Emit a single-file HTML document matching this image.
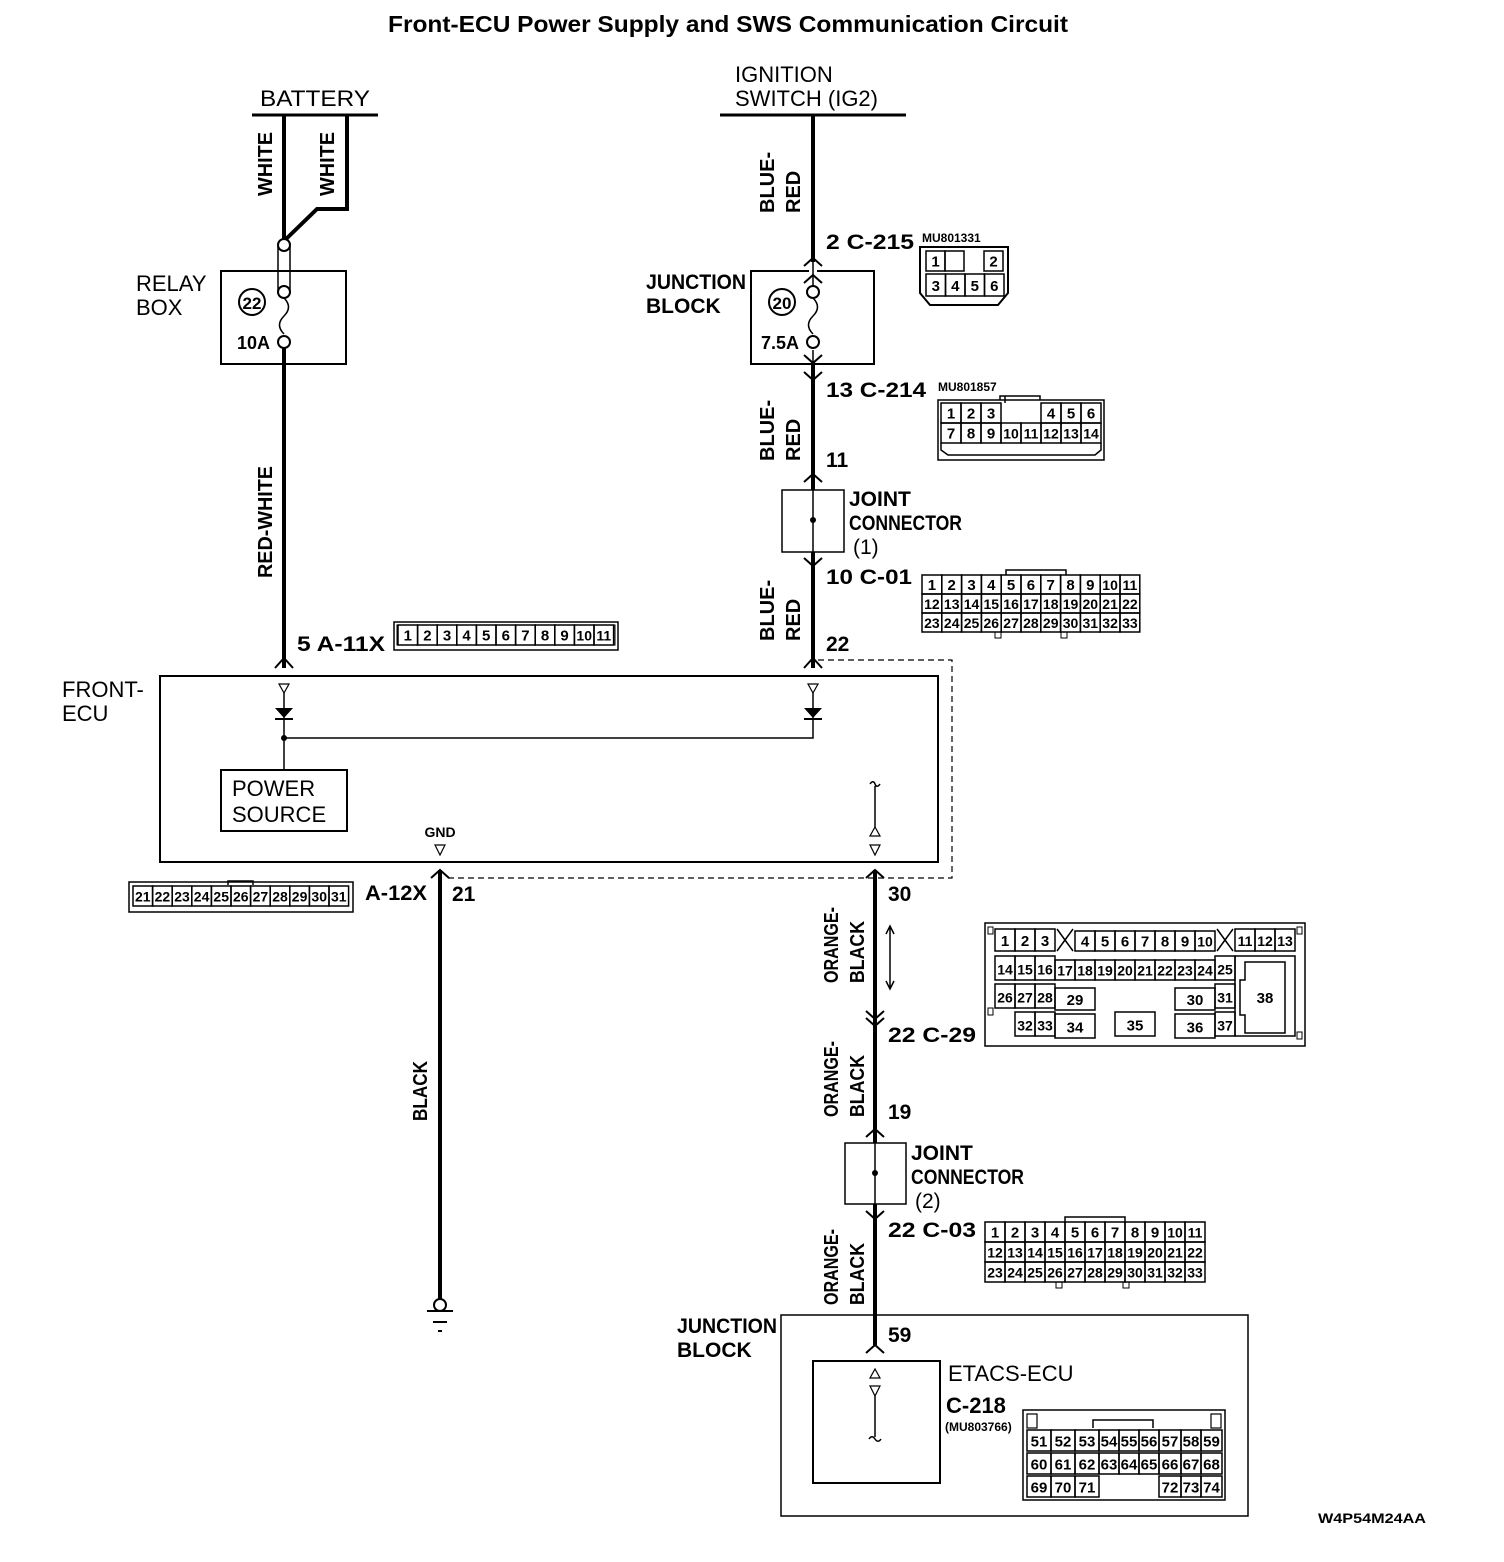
<!DOCTYPE html>
<html><head><meta charset="utf-8"><style>
html,body{margin:0;padding:0;background:#fff}
svg{display:block}
text{font-family:"Liberation Sans",sans-serif;fill:#000}
.b{font-weight:bold}
</style></head><body>
<svg id="s" width="1504" height="1562" viewBox="0 0 1504 1562" xmlns="http://www.w3.org/2000/svg">
<rect width="1504" height="1562" fill="#fff"/>
<text x="388" y="32" class="b" font-size="23" textLength="680" lengthAdjust="spacingAndGlyphs">Front-ECU Power Supply and SWS Communication Circuit</text>

<!-- BATTERY -->
<text x="260" y="106" font-size="22" textLength="110" lengthAdjust="spacingAndGlyphs">BATTERY</text>
<line x1="252" y1="115" x2="378" y2="115" stroke="#000" stroke-width="3"/>
<polyline points="284,115 284,240" stroke="#000" stroke-width="4" fill="none"/>
<polyline points="347,115 347,209 317,209 284,241" stroke="#000" stroke-width="4" fill="none"/>
<text transform="translate(272,196) rotate(-90)" class="b" font-size="20" textLength="64" lengthAdjust="spacingAndGlyphs">WHITE</text>
<text transform="translate(334,196) rotate(-90)" class="b" font-size="20" textLength="64" lengthAdjust="spacingAndGlyphs">WHITE</text>
<rect x="221" y="271" width="125" height="93" fill="none" stroke="#000" stroke-width="2"/>
<text x="136" y="291" font-size="22">RELAY</text>
<text x="136" y="315" font-size="22">BOX</text>
<path d="M278,246 V292 M290,246 V292" stroke="#000" stroke-width="1.5"/>
<circle cx="284" cy="245" r="6" fill="#fff" stroke="#000" stroke-width="2"/>
<circle cx="284" cy="292" r="6" fill="#fff" stroke="#000" stroke-width="2"/>
<path d="M284,298 c6,6 6,12 0,18 c-6,6 -6,12 0,18" fill="none" stroke="#000" stroke-width="1.5"/>
<circle cx="284" cy="342" r="6" fill="#fff" stroke="#000" stroke-width="2"/>
<circle cx="252" cy="302" r="13" fill="none" stroke="#000" stroke-width="2"/>
<text x="252" y="309" class="b" font-size="17" text-anchor="middle">22</text>
<text x="237" y="349" class="b" font-size="18">10A</text>
<line x1="284" y1="348" x2="284" y2="668" stroke="#000" stroke-width="4"/>
<text transform="translate(272,578) rotate(-90)" class="b" font-size="20" textLength="112" lengthAdjust="spacingAndGlyphs">RED-WHITE</text>
<text x="297" y="651" class="b" font-size="21" textLength="88" lengthAdjust="spacingAndGlyphs">5 A-11X</text>
<path d="M275,668 L284,658 L293,668" fill="none" stroke="#000" stroke-width="2"/>

<!-- Ignition -->
<text x="735" y="82" font-size="22">IGNITION</text>
<text x="735" y="106" font-size="22">SWITCH (IG2)</text>
<line x1="720" y1="115" x2="906" y2="115" stroke="#000" stroke-width="3"/>
<line x1="813" y1="115" x2="813" y2="668" stroke="#000" stroke-width="4"/>
<text transform="translate(774,213) rotate(-90)" class="b" font-size="20">BLUE-</text>
<text transform="translate(800,213) rotate(-90)" class="b" font-size="20">RED</text>
<text x="826" y="249" class="b" font-size="21" textLength="88" lengthAdjust="spacingAndGlyphs">2 C-215</text>
<text x="922" y="242" class="b" font-size="12">MU801331</text>
<rect x="751" y="271" width="123" height="93" fill="none" stroke="#000" stroke-width="2"/>
<rect x="809" y="262" width="8" height="100" fill="#fff"/>
<line x1="813" y1="262" x2="813" y2="285" stroke="#000" stroke-width="1.5"/>
<line x1="813" y1="350" x2="813" y2="372" stroke="#000" stroke-width="1.5"/>
<path d="M804,266 L813,258 L822,266 M804,283 L813,275 L822,283 M804,355 L813,363 L822,355 M804,372 L813,380 L822,372" fill="none" stroke="#000" stroke-width="2"/>
<circle cx="813" cy="292" r="6" fill="#fff" stroke="#000" stroke-width="2"/>
<path d="M813,298 c6,6 6,12 0,18 c-6,6 -6,12 0,18" fill="none" stroke="#000" stroke-width="1.5"/>
<circle cx="813" cy="342" r="6" fill="#fff" stroke="#000" stroke-width="2"/>
<circle cx="782" cy="302" r="13" fill="none" stroke="#000" stroke-width="2"/>
<text x="782" y="309" class="b" font-size="17" text-anchor="middle">20</text>
<text x="761" y="349" class="b" font-size="18">7.5A</text>
<text x="646" y="289" class="b" font-size="21" textLength="100" lengthAdjust="spacingAndGlyphs">JUNCTION</text>
<text x="646" y="313" class="b" font-size="21">BLOCK</text>
<text x="826" y="397" class="b" font-size="21" textLength="100" lengthAdjust="spacingAndGlyphs">13 C-214</text>
<text x="938" y="391" class="b" font-size="12">MU801857</text>
<text transform="translate(774,461) rotate(-90)" class="b" font-size="20">BLUE-</text>
<text transform="translate(800,461) rotate(-90)" class="b" font-size="20">RED</text>
<text x="826" y="467" class="b" font-size="21">11</text>
<path d="M804,482 L813,474 L822,482" fill="none" stroke="#000" stroke-width="2"/>
<rect x="782" y="490" width="62" height="62" fill="#fff" stroke="#000" stroke-width="1.5"/>
<line x1="813" y1="490" x2="813" y2="552" stroke="#000" stroke-width="1.5"/>
<circle cx="813" cy="520" r="3" fill="#000"/>
<text x="849" y="506" class="b" font-size="21">JOINT</text>
<text x="849" y="530" class="b" font-size="21" textLength="113" lengthAdjust="spacingAndGlyphs">CONNECTOR</text>
<text x="853" y="554" font-size="21">(1)</text>
<path d="M804,558 L813,566 L822,558" fill="none" stroke="#000" stroke-width="2"/>
<text x="826" y="584" class="b" font-size="21" textLength="86" lengthAdjust="spacingAndGlyphs">10 C-01</text>
<text transform="translate(774,641) rotate(-90)" class="b" font-size="20">BLUE-</text>
<text transform="translate(800,641) rotate(-90)" class="b" font-size="20">RED</text>
<text x="826" y="651" class="b" font-size="21">22</text>
<path d="M804,668 L813,658 L822,668" fill="none" stroke="#000" stroke-width="2"/>

<path d="M818,660 H952 V878 H445" fill="none" stroke="#000" stroke-width="1.2" stroke-dasharray="6,4"/>

<!-- FRONT ECU -->
<rect x="160" y="676" width="778" height="186" fill="#fff" stroke="#000" stroke-width="2"/>
<text x="62" y="697" font-size="22">FRONT-</text>
<text x="62" y="721" font-size="22">ECU</text>
<path d="M279,684 L289,684 L284,693 Z M808,684 L818,684 L813,693 Z" fill="none" stroke="#000" stroke-width="1.2"/>
<path d="M284,693 V770 M284,738 H813 V693" fill="none" stroke="#000" stroke-width="1.5"/>
<path d="M275,708 L293,708 L284,718 Z M804,708 L822,708 L813,718 Z" fill="#000"/>
<path d="M275,719 H293 M804,719 H822" stroke="#000" stroke-width="2"/>
<circle cx="284" cy="738" r="3" fill="#000"/>
<rect x="221" y="770" width="126" height="61" fill="#fff" stroke="#000" stroke-width="2"/>
<text x="232" y="796" font-size="22">POWER</text>
<text x="232" y="822" font-size="22">SOURCE</text>
<text x="440" y="837" class="b" font-size="14" text-anchor="middle">GND</text>
<path d="M435,845 L445,845 L440,855 Z" fill="none" stroke="#000" stroke-width="1.2"/>
<path d="M870,784 c2,-3 4,-3 5,0 c1,3 3,3 5,0 M875,786 V827" fill="none" stroke="#000" stroke-width="1.5"/>
<path d="M870,836 L880,836 L875,827 Z M870,845 L880,845 L875,855 Z" fill="none" stroke="#000" stroke-width="1.2"/>

<path d="M431,878 L440,870 L449,878 M866,878 L875,870 L884,878" fill="none" stroke="#000" stroke-width="2"/>
<line x1="440" y1="870" x2="440" y2="1300" stroke="#000" stroke-width="4"/>
<text x="365" y="900" class="b" font-size="21" textLength="62" lengthAdjust="spacingAndGlyphs">A-12X</text>
<text x="452" y="901" class="b" font-size="21">21</text>
<text transform="translate(427,1121) rotate(-90)" class="b" font-size="20" textLength="60" lengthAdjust="spacingAndGlyphs">BLACK</text>
<circle cx="440" cy="1305" r="6" fill="#fff" stroke="#000" stroke-width="2"/>
<path d="M427,1311 H453 M433,1322 H447 M438,1331 H442" stroke="#000" stroke-width="2"/>

<line x1="875" y1="870" x2="875" y2="1345" stroke="#000" stroke-width="4"/>
<text x="888" y="901" class="b" font-size="21">30</text>
<path d="M890,928 V987 M886,934 L890,926 L894,934 M886,981 L890,989 L894,981" fill="none" stroke="#000" stroke-width="1.5"/>
<text transform="translate(838,983) rotate(-90)" class="b" font-size="20" textLength="76" lengthAdjust="spacingAndGlyphs">ORANGE-</text>
<text transform="translate(864,983) rotate(-90)" class="b" font-size="20" textLength="62" lengthAdjust="spacingAndGlyphs">BLACK</text>
<path d="M866,1011 L875,1019 L884,1011 M866,1018 L875,1026 L884,1018" fill="none" stroke="#000" stroke-width="2"/>
<text x="888" y="1042" class="b" font-size="21" textLength="88" lengthAdjust="spacingAndGlyphs">22 C-29</text>
<text transform="translate(838,1117) rotate(-90)" class="b" font-size="20" textLength="76" lengthAdjust="spacingAndGlyphs">ORANGE-</text>
<text transform="translate(864,1117) rotate(-90)" class="b" font-size="20" textLength="62" lengthAdjust="spacingAndGlyphs">BLACK</text>
<text x="888" y="1119" class="b" font-size="21">19</text>
<path d="M866,1137 L875,1129 L884,1137" fill="none" stroke="#000" stroke-width="2"/>
<rect x="845" y="1143" width="61" height="61" fill="#fff" stroke="#000" stroke-width="1.5"/>
<line x1="875" y1="1143" x2="875" y2="1204" stroke="#000" stroke-width="1.5"/>
<circle cx="875" cy="1173" r="3" fill="#000"/>
<text x="911" y="1160" class="b" font-size="21">JOINT</text>
<text x="911" y="1184" class="b" font-size="21" textLength="113" lengthAdjust="spacingAndGlyphs">CONNECTOR</text>
<text x="915" y="1208" font-size="21">(2)</text>
<path d="M866,1211 L875,1219 L884,1211" fill="none" stroke="#000" stroke-width="2"/>
<text x="888" y="1237" class="b" font-size="21" textLength="88" lengthAdjust="spacingAndGlyphs">22 C-03</text>
<text transform="translate(838,1305) rotate(-90)" class="b" font-size="20" textLength="76" lengthAdjust="spacingAndGlyphs">ORANGE-</text>
<text transform="translate(864,1305) rotate(-90)" class="b" font-size="20" textLength="62" lengthAdjust="spacingAndGlyphs">BLACK</text>

<rect x="781" y="1315" width="467" height="201" fill="none" stroke="#000" stroke-width="1.5"/>
<text x="677" y="1333" class="b" font-size="21" textLength="100" lengthAdjust="spacingAndGlyphs">JUNCTION</text>
<text x="677" y="1357" class="b" font-size="21">BLOCK</text>
<text x="888" y="1342" class="b" font-size="21">59</text>
<path d="M866,1353 L875,1345 L884,1353" fill="none" stroke="#000" stroke-width="2"/>
<rect x="813" y="1361" width="127" height="122" fill="none" stroke="#000" stroke-width="2"/>
<path d="M870,1378 L880,1378 L875,1369 Z M870,1386 L880,1386 L875,1396 Z" fill="none" stroke="#000" stroke-width="1.2"/>
<path d="M875,1396 V1437 M869,1439 c2,-3 4,-3 6,0 c2,3 4,3 6,0" fill="none" stroke="#000" stroke-width="1.5"/>
<text x="948" y="1381" font-size="22">ETACS-ECU</text>
<text x="946" y="1413" class="b" font-size="22">C-218</text>
<text x="945" y="1431" class="b" font-size="12">(MU803766)</text>

<text x="1318" y="1523" class="b" font-size="14" textLength="108" lengthAdjust="spacingAndGlyphs">W4P54M24AA</text>
<g id="conn"></g>
</svg>
<script>
var g=document.getElementById('conn'),NS='http://www.w3.org/2000/svg';
function R(x,y,w,h,sw,f){var r=document.createElementNS(NS,'rect');r.setAttribute('x',x);r.setAttribute('y',y);r.setAttribute('width',w);r.setAttribute('height',h);r.setAttribute('fill',f||'none');r.setAttribute('stroke','#000');r.setAttribute('stroke-width',sw||1.5);g.appendChild(r);}
function T(x,y,s,fs){var t=document.createElementNS(NS,'text');t.setAttribute('x',x);t.setAttribute('y',y);t.setAttribute('font-size',fs||15);t.setAttribute('font-weight','bold');t.setAttribute('text-anchor','middle');t.textContent=s;g.appendChild(t);}
function L(d,sw){var p=document.createElementNS(NS,'path');p.setAttribute('d',d);p.setAttribute('fill','none');p.setAttribute('stroke','#000');p.setAttribute('stroke-width',sw||1.5);g.appendChild(p);}
function cell(x,y,w,h,s,fs){R(x,y,w,h,1.5);if(s!==null&&s!=='')T(x+w/2,y+h*0.78,s,fs||(String(s).length>1&&w<22?14:15));}
function row(x,y,w,h,arr){arr.forEach(function(s,i){if(s!==null)cell(x+i*w,y,w,h,s);});}
R(394,622,224,28,1.5);R(397,625,218,20,1);row(398,625,19.6,20,[1,2,3,4,5,6,7,8,9,10,11]);
R(129,882,224,30,1.5);L('M228,885 V881 H253 V885');row(133,886,19.6,20,[21,22,23,24,25,26,27,28,29,30,31]);
L('M920,247 H1008 V293 L998,305 H930 L920,293 Z',2);
cell(926,251,19,20,1);cell(945,251,19,20,'');cell(984,251,19,20,2);
row(926,274,19.5,22,[3,4,5,6]);
R(938,400,166,60,1.5);L('M1000,400 V396 H1040 V400');
row(941,403,20,20,[1,2,3,null,null,4,5,6]);L('M1005,403 V396');
row(941,423,20,20,[7,8,9,10,11,12,13,14]);L('M941,443 V450 L948,455 H1095 L1101,450 V443');
L('M1006,575 V570 H1066 V575');
row(922,575,19.8,19,[1,2,3,4,5,6,7,8,9,10,11]);
row(922,594,19.8,19,[12,13,14,15,16,17,18,19,20,21,22]);
row(922,613,19.8,19,[23,24,25,26,27,28,29,30,31,32,33]);
R(995,632,6,6,1);R(1061,632,6,6,1);
L('M1065,1222 V1217 H1125 V1222');
row(985,1222,20,20,[1,2,3,4,5,6,7,8,9,10,11]);
row(985,1242,20,20,[12,13,14,15,16,17,18,19,20,21,22]);
row(985,1262,20,20,[23,24,25,26,27,28,29,30,31,32,33]);
R(1056,1282,6,6,1);R(1123,1282,6,6,1);
R(985,923,320,123,1.5);
row(995,929,20,22,[1,2,3]);L('M1057,929 L1073,951 M1073,929 L1057,951',1.5);
row(1075,931,20,20,[4,5,6,7,8,9,10]);L('M1217,929 L1233,951 M1233,929 L1217,951',1.5);
row(1235,929,20,22,[11,12,13]);
row(995,956,20,24,[14,15,16]);row(1055,960,20,20,[17,18,19,20,21,22,23,24]);cell(1215,956,20,24,25);
row(995,984,20,24,[26,27,28]);cell(1055,988,40,22,29);cell(1175,988,40,22,30);cell(1215,984,20,24,31);
row(1015,1012,20,24,[32,33]);cell(1055,1014,40,24,34);cell(1115,1012,40,24,35);cell(1175,1014,40,24,36);cell(1215,1012,20,24,37);
R(1235,956,60,80,1.5);L('M1245,962 H1285 V1033 H1245 V1015 H1240 V980 H1245 Z');T(1265,1003,38,15);
R(988,927,5,7,1);R(1297,927,5,7,1);R(988,1008,5,7,1);R(1297,1032,5,7,1);
R(1023,1410,202,90,1.5);R(1027,1414,10,14,1.2);R(1211,1414,10,14,1.2);L('M1093,1428 V1420 H1153 V1428');
var xs=[1027,1051,1075,1099,1119,1139,1159,1181,1201,1222];
function r218(y,labs){labs.forEach(function(s,i){if(s!==null)cell(xs[i],y,xs[i+1]-xs[i],21,s,15);});}
r218(1430,[51,52,53,54,55,56,57,58,59]);
r218(1453,[60,61,62,63,64,65,66,67,68]);
r218(1476,[69,70,71,null,null,null,72,73,74]);
</script>
</body></html>
